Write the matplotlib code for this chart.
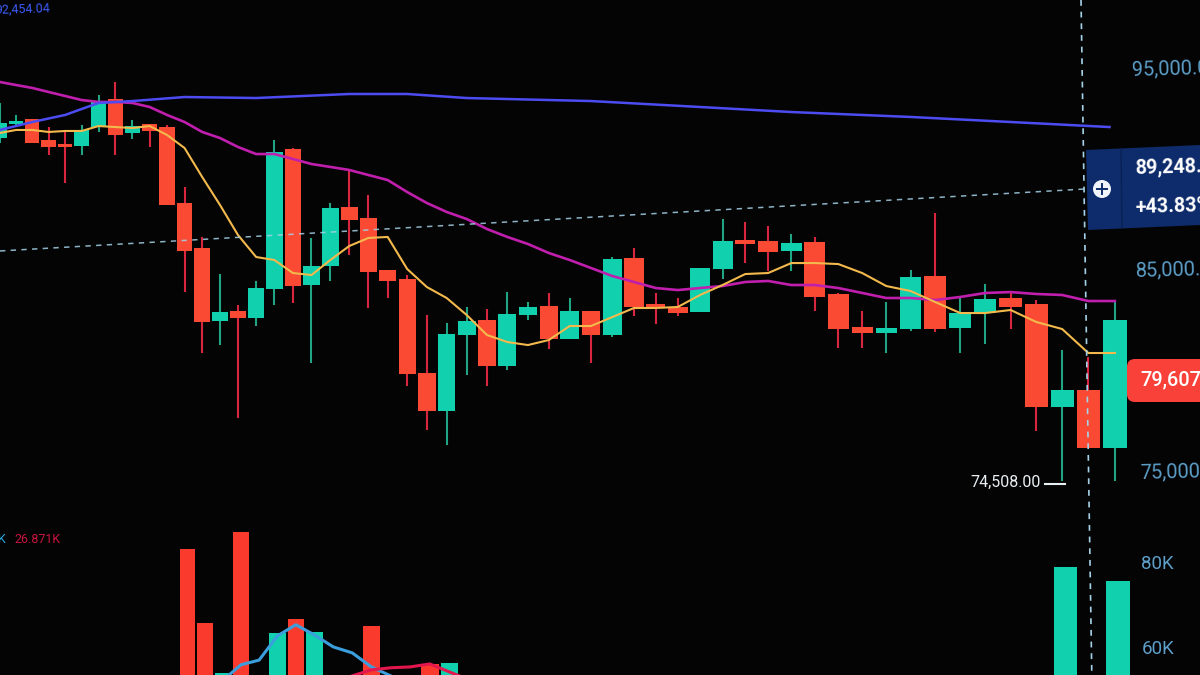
import numpy as np
import matplotlib as mpl
mpl.use('Agg')
import matplotlib.pyplot as plt
from matplotlib.patches import FancyBboxPatch, Polygon, Circle
from matplotlib.transforms import blended_transform_factory

mpl.rcParams['font.family'] = ['Roboto', 'DejaVu Sans']

#%% candles, oldest first
opens = [91525, 92220, 92470, 91425, 91230, 91130, 92070, 93460, 91775, 92220,
         92070, 88300, 86065, 82445, 82940, 82590, 84030, 90980, 84230, 85175,
         88100, 87555, 84975, 84530, 79860, 77975, 81750, 82495, 80210, 82740,
         83190, 81550, 82940, 81750, 85570, 83285, 83140, 82890, 85025, 86465,
         86415, 85920, 86365, 83785, 82145, 81850, 82045, 84675, 82095, 82840,
         83585, 83285, 78175, 79020, 76140]
closes = [92270, 92370, 91280, 91080, 91080, 91925, 93315, 91675, 92120, 91875,
          88200, 85920, 82395, 82890, 82590, 84080, 90830, 84180, 85175, 88050,
          87455, 84875, 84430, 79815, 77975, 81800, 82445, 80210, 82790, 83140,
          81550, 82940, 81750, 85520, 83140, 83090, 82840, 85075, 86415, 86265,
          85870, 86315, 83635, 82045, 81850, 82095, 84630, 82045, 82840, 83535,
          83140, 78175, 79020, 76140, 82495]
highs = [93265, 92670, 92470, 92070, 91825, 92170, 93660, 94305, 92420, 92220,
         92170, 89095, 86615, 84775, 83240, 84430, 91425, 91030, 86565, 88300,
         89890, 88700, 84975, 84725, 82740, 82345, 83140, 83040, 83880, 83385,
         83835, 83585, 82940, 85620, 86065, 83835, 83585, 85075, 87505, 87355,
         87160, 86760, 86615, 83835, 82940, 83385, 84975, 87800, 83585, 84280,
         83835, 83485, 81005, 80655, 83385]
lows = [91280, 92170, 91280, 90680, 89290, 90680, 91825, 90680, 91475, 91080,
        88200, 83880, 80855, 81255, 77630, 82195, 83240, 83335, 80360, 84430,
        85720, 83090, 83585, 79220, 77035, 76290, 79765, 79220, 80010, 82495,
        81055, 81550, 80360, 81650, 82690, 82295, 82690, 82890, 84530, 85320,
        84925, 84925, 82940, 81105, 81105, 80855, 81945, 81900, 80855, 81300,
        82045, 76985, 74508, 76140, 74500]

ma_fast = [91775, 91925, 91925, 91825, 91875, 91875, 92120, 92070, 92020, 92120,
           91675, 91030, 89590, 88200, 86710, 85620, 85470, 84825, 84725, 85470,
           86165, 86565, 86615, 85025, 84130, 83585, 82740, 81750, 81400, 81250,
           81500, 82195, 82195, 82640, 83090, 83090, 83140, 83735, 84230, 84775,
           84825, 85320, 85320, 85270, 84825, 84180, 83930, 83385, 82840, 82840,
           82990, 82395, 82045, 80855, 80855]
ma_mid = [94305, 94155, 94010, 93810, 93610, 93410, 93315, 93315, 93265, 93065,
          92670, 92320, 91825, 91525, 91080, 90730, 90730, 90485, 90235, 90090,
          89940, 89690, 89440, 88845, 88300, 87855, 87505, 87010, 86615, 86265,
          85820, 85470, 85075, 84675, 84380, 84080, 83980, 84080, 84180, 84380,
          84430, 84230, 84230, 84080, 83835, 83585, 83585, 83485, 83635, 83835,
          83880, 83785, 83735, 83435, 83435]
ma_slow_idx = [0, 2, 4, 6, 8, 11, 15, 20, 23, 26, 32, 37, 41, 46, 50, 53.8]
ma_slow = [91925, 92320, 92670, 93265, 93360, 93560, 93510, 93710, 93710, 93510,
           93360, 93065, 92815, 92570, 92320, 92070]

#%% volume pane, in K
vol_idx = [11, 12, 13, 14, 16, 17, 18, 21, 24, 25, 52, 54]
vol_val = [83.1, 65.6, 53.9, 87.1, 63.3, 66.6, 63.5, 64.9, 56.0, 56.2, 78.8, 75.5]
vol_up = [False, False, True, False, True, False, True, False, False, True, True, True]
vol_ma1_idx = [13, 14, 15, 16, 17, 18, 19, 20, 21, 22]
vol_ma1 = [52.2, 55.8, 56.9, 62.6, 65.2, 62.8, 60.0, 58.6, 55.3, 53.2]
vol_ma2_idx = [20, 21, 22, 23, 24, 25, 26]
vol_ma2 = [53.2, 54.6, 55.1, 55.3, 56.0, 54.1, 52.2]

price_ticks = [95000, 85000, 75000]
price_labels = ['95,000.00', '85,000.00', '75,000.00']
vol_ticks = [80, 60]
vol_labels = ['80K', '60K']
low_label = '74,508.00'
low_price = 74508
last_price = 79607
last_label = '79,607.00'
order_price = '89,248.00'
order_pct = '+43.83%'
top_label = '92,454.04'
vol_legend = '26.871K'

BG = '#040404'
RED = '#fb4a33'
GREEN = '#10d0ae'
RED_WICK = '#d9263f'
GREEN_WICK = '#1fa583'
AXIS_BLUE = '#5d9fc9'
DASH = '#a5d2e8'


# the photo is shot at an angle, so candles get wider to the right
def to_px(i):
    i = np.asarray(i, dtype=float)
    return 16.01 * i / (1 - 0.004158 * i)


def from_px(x):
    x = np.asarray(x, dtype=float)
    return x / (16.01 + 0.004158 * x)


fig = plt.figure(figsize=(12, 6.75), dpi=100, facecolor=BG)

#%% volume first so it sits behind
ax_v = fig.add_axes([3 / 1200, 0, 1, 1], facecolor='none')
ax_v.set_xscale('function', functions=(to_px, from_px))
cols = [GREEN if u else '#fb3a2e' for u in vol_up]
ax_v.bar(vol_idx, vol_val, width=0.88, color=cols, zorder=2)
ax_v.plot(vol_ma1_idx, vol_ma1, color='#3a9fdc', lw=2.2, zorder=3)
ax_v.plot(vol_ma2_idx, vol_ma2, color='#e3174e', lw=2.2, zorder=3)
ax_v.set_xlim(from_px(0), from_px(1200))
ax_v.set_ylim(53.4, 212.0)
ax_v.axis('off')

#%% price pane
ax = fig.add_axes([0, 0, 1, 1], facecolor='none')
ax.set_xscale('function', functions=(to_px, from_px))
idx = np.arange(len(opens))
up = np.array(closes) >= np.array(opens)
ax.vlines(idx, lows, highs, colors=[GREEN_WICK if u else RED_WICK for u in up],
          lw=1.5, zorder=2)
ax.bar(idx, np.abs(np.array(closes) - np.array(opens)), bottom=np.minimum(opens, closes),
       width=0.88, color=[GREEN if u else RED for u in up], zorder=3)
ax.plot(idx, ma_mid, color='#c01fae', lw=1.9, zorder=4)
ax.plot(ma_slow_idx, ma_slow, color='#4c4cf2', lw=1.8, zorder=4)
ax.plot(idx, ma_fast, color='#f3b94c', lw=1.5, zorder=5)

# order line and crosshair
ax.plot([0, 52.87], [85920, 88995], color=DASH, lw=1.1, ls=(0, (3.5, 3.5)), zorder=6, alpha=0.85)
ax.plot([52.72, 53.13], [98375, 64875], color=DASH, lw=1.2, ls=(0, (3.5, 3.5)), zorder=6)
ax.set_xlim(from_px(0), from_px(1200))
ax.set_ylim(64875, 98375)
ax.axis('off')

#%% labels in pixel space
ov = fig.add_axes([0, 0, 1, 1], facecolor='none')
ov.set_xlim(0, 1200)
ov.set_ylim(675, 0)
ov.axis('off')

to_price = blended_transform_factory(ov.transData, ax.transData)
to_vol = blended_transform_factory(ov.transData, ax_v.transData)
for tick, lab, x in zip(price_ticks, price_labels, [1132, 1136, 1140]):
    ov.text(x, tick, lab, transform=to_price, color=AXIS_BLUE, fontsize=14.4,
            va='center_baseline', ha='left', rotation=1.5, rotation_mode='anchor')
for tick, lab, x in zip(vol_ticks, vol_labels, [1141, 1142]):
    ov.text(x, tick, lab, transform=to_vol, color=AXIS_BLUE, fontsize=13.5,
            va='center_baseline', ha='left')

# order pill
ov.add_patch(Polygon([[1086, 150], [1200, 145], [1200, 225], [1088, 230]],
                     closed=True, fc='#0e2c6b', ec='none', zorder=7))
ov.plot([1121, 1122], [149, 228], color='#0a2153', lw=1.0, zorder=8)
ov.add_patch(Circle((1102, 189), 9, fc='#f1f5f9', ec='none', zorder=8))
ov.plot([1097, 1107], [189, 189], color='#0e2c6b', lw=1.4, zorder=9)
ov.plot([1102, 1102], [184, 194], color='#0e2c6b', lw=1.4, zorder=9)
ov.text(1135, 166, order_price, color='white', fontsize=14.2, weight='bold',
        va='center_baseline', ha='left', rotation=1.5, rotation_mode='anchor', zorder=9)
ov.text(1135, 206, order_pct, color='white', fontsize=14.2, weight='bold',
        va='center_baseline', ha='left', rotation=1.5, rotation_mode='anchor', zorder=9)

# last price pill
ov.add_patch(FancyBboxPatch((1127, 359), 100, 43, boxstyle='round,pad=0,rounding_size=8',
                            fc='#f9413a', ec='none', zorder=7))
ov.text(1140, last_price, last_label, transform=to_price, color='white', fontsize=14.4,
        weight='medium', va='center_baseline', ha='left', zorder=9)

# low marker
ov.text(1041, low_price, low_label, transform=to_price, color='#e8eef2', fontsize=11.5,
        va='center_baseline', ha='right', zorder=9)
ov.plot([1045, 1065], [484, 484], color='#e8eef2', lw=1.5, zorder=9)

# clipped pane legends
ov.text(50, 7, top_label, color='#3c5af5', fontsize=9, va='center_baseline', ha='right',
        rotation=2, rotation_mode='anchor')
ov.text(6, 538, 'K', color='#27a9df', fontsize=9, va='center_baseline', ha='right')
ov.text(14, 538, vol_legend, color='#c8153f', fontsize=9, va='center_baseline', ha='left')

fig.savefig('out.png', dpi=100, facecolor=BG)
